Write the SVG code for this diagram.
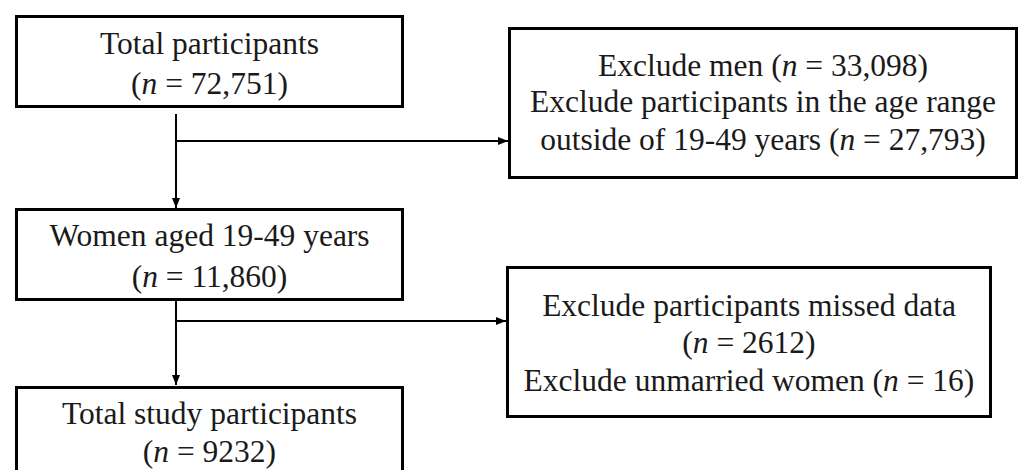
<svg xmlns="http://www.w3.org/2000/svg" width="1019" height="470" viewBox="0 0 1019 470">
<style>
.box{fill:#fff;stroke:#000;stroke-width:3}
.t{font-family:"Liberation Serif","Times New Roman",serif;font-size:31.5px;fill:#1a1a1a;text-anchor:middle}
.i{font-style:italic}
.c{fill:none;stroke:#000;stroke-width:2}
</style>
<defs>
<marker id="ah" markerUnits="userSpaceOnUse" markerWidth="10" markerHeight="8" refX="10" refY="4" orient="auto">
<path d="M0,0 L10,4 L0,8 Z" fill="#000"/>
</marker>
</defs>
<rect width="1019" height="470" fill="#fff"/>
<g id="connectors">
<path class="c" d="M176,114 V208" marker-end="url(#ah)"/>
<path class="c" d="M176,141 H508" marker-end="url(#ah)"/>
<path class="c" d="M176,300 V385" marker-end="url(#ah)"/>
<path class="c" d="M176,321 H506" marker-end="url(#ah)"/>
</g>
<g id="total">
<rect class="box" x="16.5" y="16.5" width="386" height="90"/>
<text class="t" x="209.5" y="54">Total participants</text>
<text class="t" x="209.5" y="93.5">(<tspan class="i">n</tspan> = 72,751)</text>
</g>
<g id="women">
<rect class="box" x="16.5" y="209.5" width="386" height="90"/>
<text class="t" x="209.5" y="246">Women aged 19-49 years</text>
<text class="t" x="209.5" y="287">(<tspan class="i">n</tspan> = 11,860)</text>
</g>
<g id="study">
<rect class="box" x="16.5" y="387.5" width="386" height="100"/>
<text class="t" x="209.5" y="424">Total study participants</text>
<text class="t" x="209.5" y="462">(<tspan class="i">n</tspan> = 9232)</text>
</g>
<g id="exclude1">
<rect class="box" x="509.5" y="28.5" width="507" height="149"/>
<text class="t" x="763" y="76">Exclude men (<tspan class="i">n</tspan> = 33,098)</text>
<text class="t" x="763" y="112">Exclude participants in the age range</text>
<text class="t" x="763" y="150">outside of 19-49 years (<tspan class="i">n</tspan> = 27,793)</text>
</g>
<g id="exclude2">
<rect class="box" x="507.5" y="267.5" width="483" height="149"/>
<text class="t" x="749" y="316">Exclude participants missed data</text>
<text class="t" x="749" y="353">(<tspan class="i">n</tspan> = 2612)</text>
<text class="t" x="749" y="391">Exclude unmarried women (<tspan class="i">n</tspan> = 16)</text>
</g>
</svg>
